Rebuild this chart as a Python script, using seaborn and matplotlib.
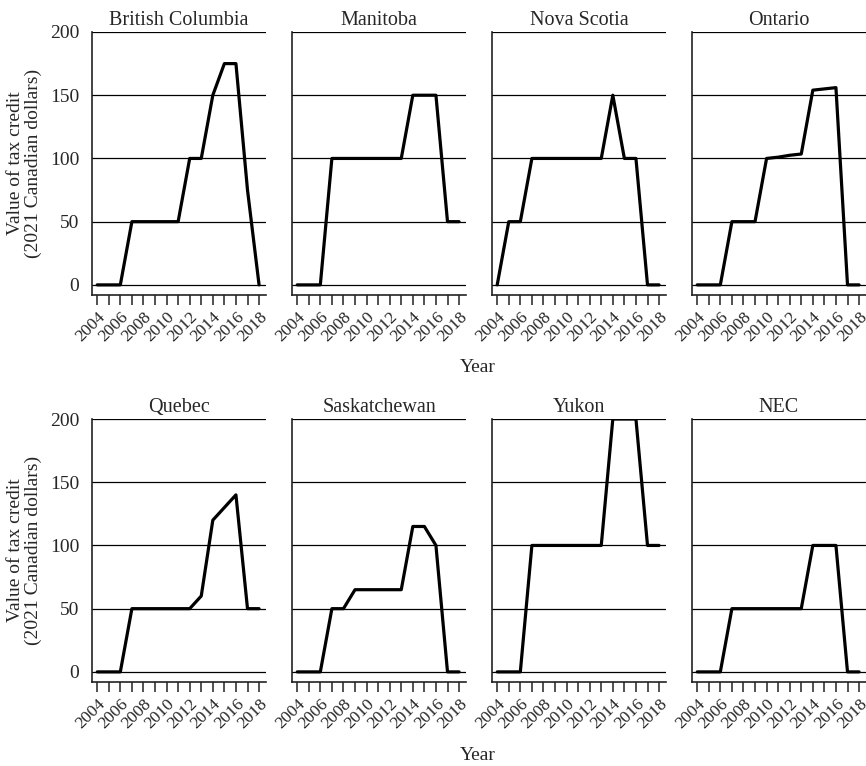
import numpy as np
import pandas as pd
import matplotlib
matplotlib.use("Agg")
import matplotlib.pyplot as plt
import seaborn as sns

years = list(range(2004, 2019))
regions = ["British Columbia", "Manitoba", "Nova Scotia", "Ontario",
           "Quebec", "Saskatchewan", "Yukon", "NEC"]

bc = [0, 0, 0, 50, 50, 50, 50, 50, 100, 100, 150, 175, 175, 75, 0]
mb = [0, 0, 0, 100, 100, 100, 100, 100, 100, 100, 150, 150, 150, 50, 50]
ns = [0, 50, 50, 100, 100, 100, 100, 100, 100, 100, 150, 100, 100, 0, 0]
on = [0, 0, 0, 50, 50, 50, 100, 101, 102.5, 103.5, 154, 155, 156, 0, 0]
qc = [0, 0, 0, 50, 50, 50, 50, 50, 50, 60, 120, 130, 140, 50, 50]
sk = [0, 0, 0, 50, 50, 65, 65, 65, 65, 65, 115, 115, 100, 0, 0]
yt = [0, 0, 0, 100, 100, 100, 100, 100, 100, 100, 200, 200, 200, 100, 100]
nec = [0, 0, 0, 50, 50, 50, 50, 50, 50, 50, 100, 100, 100, 0, 0]

series = [bc, mb, ns, on, qc, sk, yt, nec]
y_ticks = [0, 50, 100, 150, 200]
x_ticks = list(range(2004, 2019, 2))

frames = []
for name, vals in zip(regions, series):
    frames.append(pd.DataFrame({"region": name, "year": years, "value": vals}))
df = pd.concat(frames, ignore_index=True)

sns.set_theme(style="white")
plt.rcParams["font.family"] = ["Liberation Serif", "DejaVu Serif"]

W, H = 866, 766
fig = plt.figure(figsize=(W / 100, H / 100), dpi=100)

lefts = [92, 292, 492, 692]
row_tops = [32, 419]
row_bottoms = [295, 682]
aw = 174

for i, name in enumerate(regions):
    r, c = divmod(i, 4)
    ax = fig.add_axes([lefts[c] / W, 1 - row_bottoms[r] / H, aw / W,
                       (row_bottoms[r] - row_tops[r]) / H])
    for yv in y_ticks:
        ax.axhline(yv, color="black", lw=0.9, zorder=1)
    sub = df[df["region"] == name]
    sns.lineplot(data=sub, x="year", y="value", ax=ax, color="black",
                 linewidth=2.3, zorder=3)
    ax.set_xlim(2003.55, 2018.6)
    ax.set_ylim(-8, 200)
    ax.set_title(name, fontsize=14.5, pad=5)
    ax.set_xticks(years, minor=True)
    ax.set_xticks(x_ticks)
    ax.set_xticklabels([str(x) for x in x_ticks], rotation=45, ha="right",
                       rotation_mode="anchor", fontsize=12.5)
    ax.tick_params(axis="x", which="both", bottom=True, length=7, width=1.1,
                   color="#222222", direction="out", pad=3)
    ax.tick_params(axis="y", left=False, labelsize=14, pad=3)
    ax.set_yticks(y_ticks)
    ax.set_xlabel("")
    ax.set_ylabel("")
    for s in ["top", "right"]:
        ax.spines[s].set_visible(False)
    for s in ["left", "bottom"]:
        ax.spines[s].set_color("#222222")
        ax.spines[s].set_linewidth(1.2)
    if c == 0:
        ax.set_ylabel("Value of tax credit\n(2021 Canadian dollars)",
                      fontsize=14, labelpad=6, linespacing=1.0)
    else:
        ax.set_yticklabels([])

fig.text(478 / W, 1 - 367 / H, "Year", ha="center", va="center", fontsize=14)
fig.text(478 / W, 1 - 755 / H, "Year", ha="center", va="center", fontsize=14)

fig.savefig("out.png", dpi=100)
